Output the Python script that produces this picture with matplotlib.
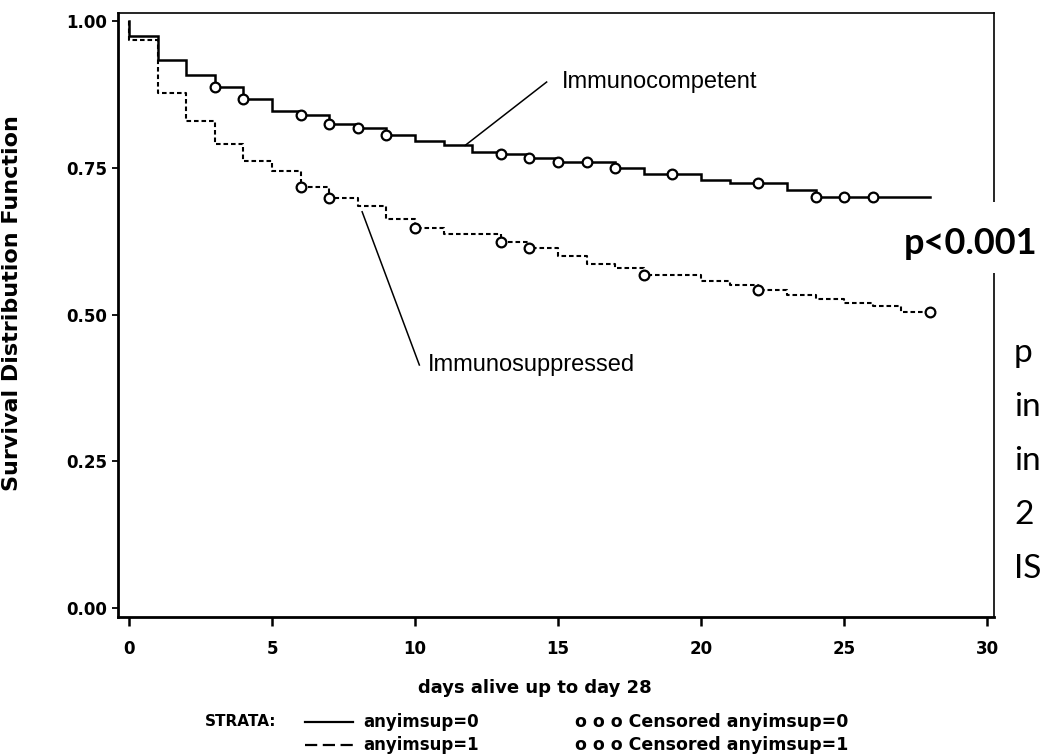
import numpy as np
import matplotlib
matplotlib.use("Agg")
from matplotlib import pyplot as plt
from matplotlib.lines import Line2D
from matplotlib.patches import Rectangle

# Kaplan-Meier steps (day of drop, survival after drop)
comp_days = [0, 1, 2, 3, 4, 5, 6, 7, 8, 9, 10, 11, 12, 13, 14, 15, 17, 18, 20, 21, 23, 24]
comp_surv = [0.975, 0.934, 0.908, 0.888, 0.867, 0.847, 0.839, 0.825, 0.817, 0.806, 0.796,
             0.788, 0.777, 0.773, 0.767, 0.760, 0.750, 0.740, 0.729, 0.724, 0.712, 0.700]
comp_censored = [3, 4, 6, 7, 8, 9, 13, 14, 15, 16, 17, 19, 22, 24, 25, 26]

supp_days = [0, 1, 2, 3, 4, 5, 6, 7, 8, 9, 10, 11, 13, 14, 15, 16, 17, 18, 20, 21, 22, 23,
             24, 25, 26, 27]
supp_surv = [0.967, 0.877, 0.830, 0.791, 0.761, 0.745, 0.717, 0.699, 0.684, 0.663, 0.648,
             0.637, 0.624, 0.614, 0.600, 0.586, 0.579, 0.567, 0.557, 0.550, 0.541, 0.533,
             0.527, 0.519, 0.514, 0.505]
supp_censored = [6, 7, 10, 13, 14, 18, 22, 28]

last_day = 28
x_ticks = [0, 5, 10, 15, 20, 25, 30]
y_ticks = [0.0, 0.25, 0.50, 0.75, 1.00]
y_ticklabels = ["0.00", "0.25", "0.50", "0.75", "1.00"]

# leader lines for the two curve labels: (curve point, text point)
comp_leader = [(11.75, 0.788), (14.6, 0.896)]
supp_leader = [(8.15, 0.675), (10.15, 0.414)]

right_text = ["p", "in", "in", "2", "IS"]

SAS = dict(family="DejaVu Sans", weight="bold")
NARROW = ["Liberation Sans Narrow", "Liberation Sans", "DejaVu Sans"]
SLIDE = ["Lato", "DejaVu Sans"]


def km_curve(days, surv):
    x = [0] + list(days) + [last_day]
    y = [1.0] + list(surv) + [surv[-1]]
    return x, y


def censor_levels(days, surv, censored):
    idx = np.searchsorted(days, censored, side="right") - 1
    return np.array(surv)[idx]


fig = plt.figure(figsize=(10.45, 7.56), dpi=100)
W, H = 1045, 756
ax = fig.add_axes([118 / W, 1 - 617 / H, (994 - 118) / W, (617 - 13) / H])

x, y = km_curve(comp_days, comp_surv)
ax.step(x, y, where="post", color="black", lw=1.8, solid_joinstyle="miter")
ax.plot(comp_censored, censor_levels(comp_days, comp_surv, comp_censored), "o",
        ms=7, mfc="white", mec="black", mew=1.6)

x, y = km_curve(supp_days, supp_surv)
ax.step(x, y, where="post", color="black", lw=1.5, linestyle=(0, (2.2, 1.4)))
ax.plot(supp_censored, censor_levels(supp_days, supp_surv, supp_censored), "o",
        ms=7, mfc="white", mec="black", mew=1.6)

# curve labels
(x0, y0), (x1, y1) = comp_leader
ax.plot([x0, x1], [y0, y1], color="black", lw=1.1)
ax.text(x1 + 0.55, y1, "Immunocompetent", family=NARROW, fontsize=17,
        ha="left", va="center")
(x0, y0), (x1, y1) = supp_leader
ax.plot([x0, x1], [y0, y1], color="black", lw=1.1)
ax.text(x1 + 0.3, y1, "Immunosuppressed", family=NARROW, fontsize=17,
        ha="left", va="center")

ax.set_xlim(-0.385, 30.24)
ax.set_ylim(-0.0153, 1.0136)
ax.set_xticks(x_ticks)
ax.set_xticklabels([str(t) for t in x_ticks], fontdict=SAS, fontsize=12)
ax.set_yticks(y_ticks)
ax.set_yticklabels(y_ticklabels, fontdict=SAS, fontsize=12)
ax.tick_params(axis="x", direction="out", length=6.5, width=1.8, pad=10)
ax.tick_params(axis="y", direction="out", length=4, width=1.3, pad=4)

ax.spines["left"].set_linewidth(2.0)
ax.spines["bottom"].set_linewidth(2.0)
ax.spines["top"].set_linewidth(1.2)
ax.spines["right"].set_linewidth(1.2)

ax.set_ylabel("Survival Distribution Function", fontdict=SAS, fontsize=16)
ax.yaxis.set_label_coords(-0.11, 0.52)
ax.set_xlabel("days alive up to day 28", fontdict=SAS, fontsize=13)
ax.xaxis.set_label_coords(0.476, -0.118)
ax.xaxis.label.set_va("center")

# legend block under the axis
fig.text(205 / W, 1 - 722 / H, "STRATA:", fontdict=SAS, fontsize=11, va="center")
fig.add_artist(Line2D([305 / W, 353 / W], [1 - 722 / H] * 2, color="black", lw=1.6))
fig.add_artist(Line2D([305 / W, 353 / W], [1 - 745 / H] * 2, color="black", lw=1.6,
                      linestyle=(0, (5.5, 2.5))))
fig.text(363 / W, 1 - 722 / H, "anyimsup=0", fontdict=SAS, fontsize=12, va="center")
fig.text(363 / W, 1 - 745 / H, "anyimsup=1", fontdict=SAS, fontsize=12, va="center")
fig.text(575 / W, 1 - 722 / H, "o o o Censored anyimsup=0", fontdict=SAS, fontsize=12.5,
         va="center")
fig.text(575 / W, 1 - 745 / H, "o o o Censored anyimsup=1", fontdict=SAS, fontsize=12.5,
         va="center")

# slide overlay: white box with the p value breaking the right frame
fig.add_artist(Rectangle((880 / W, 1 - 273 / H), (W - 880) / W, 71 / H,
                         transform=fig.transFigure, facecolor="white",
                         edgecolor="none", zorder=5))
fig.text(971 / W, 1 - 243 / H, "p<0.001", family=SLIDE, weight="bold", fontsize=26,
         ha="center", va="center", zorder=6)
for i, s in enumerate(right_text):
    fig.text(1014 / W, 1 - (353 + 54 * i) / H, s, family=SLIDE, fontsize=24,
             ha="left", va="center")

fig.savefig("out.png", dpi=100)
